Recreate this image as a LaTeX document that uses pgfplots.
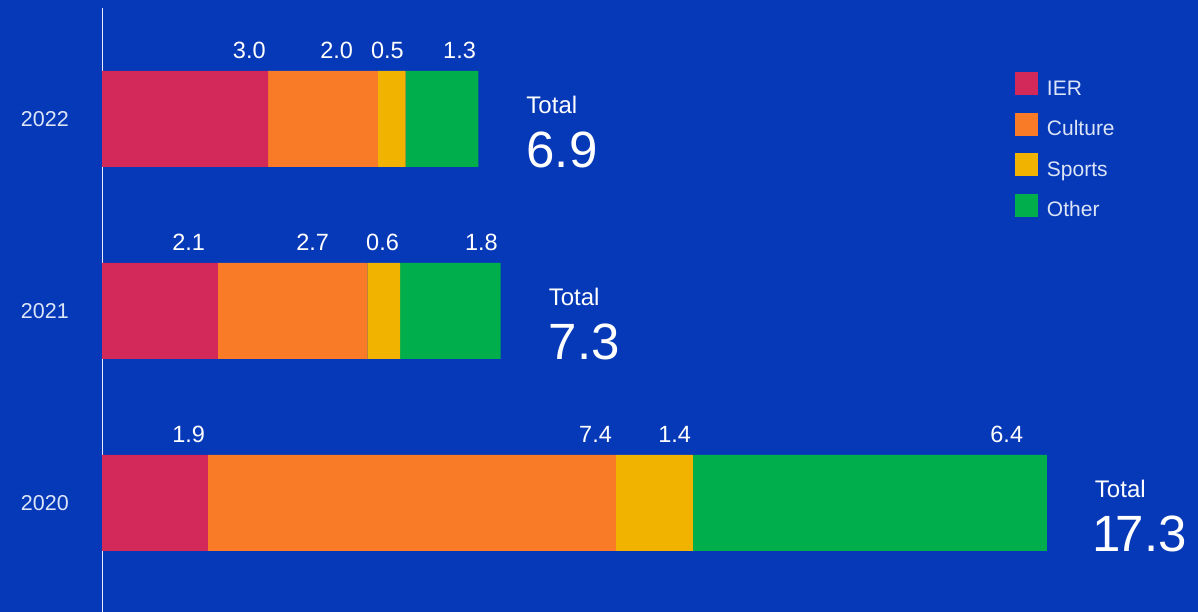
\documentclass[border=0pt]{standalone}
\usepackage{pgfplots}
\pgfplotsset{compat=1.18}
\usepackage{fontspec}
\setmainfont{Liberation Sans}
\definecolor{bg}{HTML}{0639B7}
\definecolor{cIER}{HTML}{D3295A}
\definecolor{cCul}{HTML}{F97B28}
\definecolor{cSpo}{HTML}{F2B200}
\definecolor{cOth}{HTML}{00AF4B}
\definecolor{txtlight}{HTML}{DCE4F7}
\definecolor{axline}{HTML}{E8EBF2}
\pgfplotsset{sq legend/.style={legend image code/.code={\fill[##1] (0pt,-11.5pt) rectangle (23pt,11.5pt);}}}
\tikzset{
  lbl/.style={anchor=base east, inner sep=0pt, yshift=12.5pt, text=white, font=\fontsize{23.5}{27}\selectfont},
  totl/.style={anchor=base west, inner sep=0pt, xshift=48pt, yshift=5pt, text=white, font=\fontsize{24}{28}\selectfont},
  big/.style={anchor=base west, inner sep=0pt, xshift=48pt, yshift=-1pt, text=white, font=\fontsize{51}{58}\selectfont},
}
\begin{document}
\begin{tikzpicture}
\fill[bg] (0,0) rectangle (1198pt,612pt);
\begin{axis}[
  at={(102pt,0pt)}, anchor=south west,
  scale only axis, width=1096pt, height=604pt,
  xbar stacked, bar width=0.5,
  xmin=0, xmax=20.07, ymin=-0.568, ymax=2.578,
  axis x line=none, axis y line*=left,
  y axis line style={draw=axline, line width=1pt},
  ytick={0,1,2}, yticklabels={2020,2021,2022},
  major tick length=0pt,
  /pgf/number format/assume math mode=true,
  yticklabel style={font=\fontsize{21.5}{25}\selectfont, text=txtlight, inner sep=0pt, xshift=-33pt},
  clip=false,
  legend style={at={(axis description cs:0.833,0.894)}, anchor=north west, draw=none, fill=none,
    inner sep=0pt, outer sep=0pt, row sep=17.5pt, column sep=9pt,
    nodes={inner sep=0pt, outer sep=0pt, text=txtlight, font=\fontsize{21}{25}\selectfont, text height=23pt, text depth=0pt}},
  legend cell align=left,
]
\addplot[fill=cIER, draw=none, sq legend] coordinates {(3.04,2) (2.12,1) (1.94,0)};
\addplot[fill=cCul, draw=none, sq legend] coordinates {(2.01,2) (2.74,1) (7.47,0)};
\addplot[fill=cSpo, draw=none, sq legend] coordinates {(0.51,2) (0.60,1) (1.41,0)};
\addplot[fill=cOth, draw=none, sq legend] coordinates {(1.33,2) (1.84,1) (6.48,0)};
\legend{IER,Culture,Sports,Other}
% value labels
\node[lbl] at (axis cs:3.00,2.25) {3.0};
\node[lbl] at (axis cs:4.60,2.25) {2.0};
\node[lbl] at (axis cs:5.53,2.25) {0.5};
\node[lbl] at (axis cs:6.85,2.25) {1.3};
\node[lbl] at (axis cs:1.89,1.25) {2.1};
\node[lbl] at (axis cs:4.16,1.25) {2.7};
\node[lbl] at (axis cs:5.44,1.25) {0.6};
\node[lbl] at (axis cs:7.25,1.25) {1.8};
\node[lbl] at (axis cs:1.89,0.25) {1.9};
\node[lbl] at (axis cs:9.34,0.25) {7.4};
\node[lbl] at (axis cs:10.79,0.25) {1.4};
\node[lbl] at (axis cs:16.87,0.25) {6.4};
% totals
\node[totl] at (axis cs:6.89,2) {Total};
\node[big] at (axis cs:6.89,1.75) {6.9};
\node[totl] at (axis cs:7.30,1) {Total};
\node[big] at (axis cs:7.30,0.75) {7.3};
\node[totl] at (axis cs:17.30,0) {Total};
\node[big] at (axis cs:17.30,-0.25) {\kern-0.05em 1\kern-0.1em 7.3};
\end{axis}
\pgfresetboundingbox
\useasboundingbox (0,0) rectangle (1198pt,612pt);
\end{tikzpicture}
\end{document}
